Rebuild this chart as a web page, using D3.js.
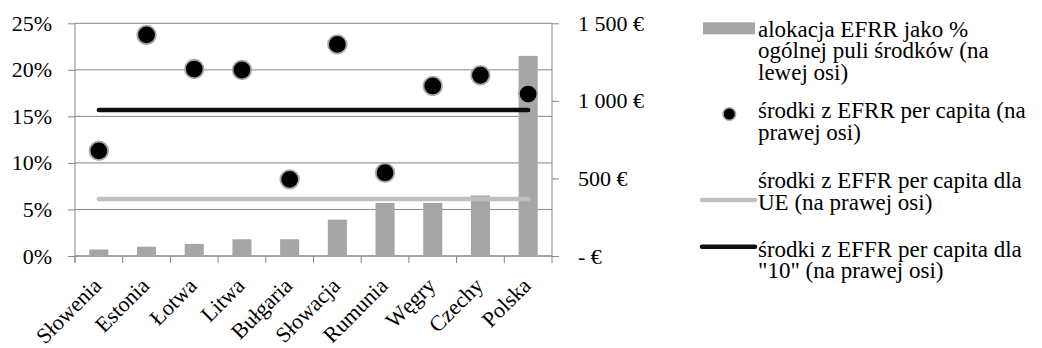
<!DOCTYPE html>
<html>
<head>
<meta charset="utf-8">
<script src="https://cdn.jsdelivr.net/npm/d3@7"></script>
<style>
  html, body { margin: 0; padding: 0; background: #fff; }
</style>
</head>
<body>
<svg id="chart" width="1042" height="348" style="font-family: 'Liberation Serif', 'Times New Roman', serif;"></svg>
<script>
// Countries on the x axis
const categories = ["Słowenia", "Estonia", "Łotwa", "Litwa", "Bułgaria", "Słowacja", "Rumunia", "Węgry", "Czechy", "Polska"];
// ERDF allocation as a share of the total pool (left axis, %)
const sharePct = [0.7, 1.0, 1.3, 1.8, 1.8, 3.9, 5.7, 5.7, 6.5, 21.5];
// ERDF funds per capita (right axis, €)
const perCapita = [678, 1425, 1205, 1199, 494, 1364, 537, 1096, 1165, 1044];
// Reference levels per capita (right axis, €)
const euAverage = 367;
const group10Average = 941;
// Axis ticks
const leftTicks = [0, 5, 10, 15, 20, 25];
const rightTicks = [0, 500, 1000, 1500];
// Legend entries
const legendItems = [
  { kind: "bar",  lines: ["alokacja EFRR jako %", "ogólnej puli środków (na", "lewej osi)"] },
  { kind: "dot",  lines: ["środki z EFRR per capita (na", "prawej osi)"] },
  { kind: "grey", lines: ["środki z EFFR per capita dla", "UE (na prawej osi)"] },
  { kind: "black", lines: ["środki z EFFR per capita dla", "\"10\" (na prawej osi)"] }
];

const svg = d3.select("#chart");
const FONT = "'Liberation Serif', 'Times New Roman', serif";
const FS = 22;
const X0 = 75, X1 = 552, YT = 23.3, YB = 256;
const axisColor = "#868686";
const barColor = "#a6a6a6";

const x = d3.scaleBand().domain(categories).range([X0, X1]).paddingInner(0.6).paddingOuter(0.3);
const xc = d => x(d) + x.bandwidth() / 2;
const yL = d3.scaleLinear().domain([0, 25]).range([YB, YT]);
const yR = d3.scaleLinear().domain([0, 1500]).range([YB, YT]);

const eur = d3.formatLocale({ decimal: ",", thousands: " ", grouping: [3], currency: ["", " €"] });
const fmtEur = v => v === 0 ? "- €" : eur.format(",.0f")(v) + " €";

// Gridlines at the left-axis ticks
svg.append("g").selectAll("line").data(leftTicks).join("line")
  .attr("x1", X0).attr("x2", X1)
  .attr("y1", d => yL(d)).attr("y2", d => yL(d))
  .attr("stroke", axisColor).attr("stroke-width", 1);

// Left axis
const gL = svg.append("g").attr("transform", `translate(${X0},0)`)
  .call(d3.axisLeft(yL).tickValues(leftTicks).tickSize(7).tickPadding(16).tickFormat(d => d + "%"));
gL.attr("font-family", FONT).attr("font-size", FS);
gL.select(".domain").attr("stroke", axisColor).attr("d", `M-0,${YB + 7}V${YT}`);
gL.selectAll(".tick line").attr("stroke", axisColor);
gL.selectAll(".tick text").attr("fill", "#000");

// Right axis
const gR = svg.append("g").attr("transform", `translate(${X1},0)`)
  .call(d3.axisRight(yR).tickValues(rightTicks).tickSize(7).tickPadding(19).tickFormat(fmtEur));
gR.attr("font-family", FONT).attr("font-size", FS);
gR.select(".domain").attr("stroke", axisColor).attr("d", `M0,${YB}V${YT}`);
gR.selectAll(".tick line").attr("stroke", axisColor);
gR.selectAll(".tick text").attr("fill", "#000");

// Category axis: ticks at band boundaries, labels turned 45°
const bounds = d3.range(categories.length + 1).map(i => X0 + i * (X1 - X0) / categories.length);
svg.append("line").attr("x1", X0).attr("x2", X1).attr("y1", YB).attr("y2", YB).attr("stroke", axisColor);
svg.append("g").selectAll("line").data(bounds).join("line")
  .attr("x1", d => d).attr("x2", d => d).attr("y1", YB).attr("y2", YB + 7)
  .attr("stroke", axisColor);
const catLabels = svg.append("g").attr("font-family", FONT).attr("font-size", FS)
  .selectAll("g").data(categories).join("g")
  .attr("transform", d => `translate(${xc(d) + 4},${YB + 31})`);
catLabels.append("g").attr("transform", "rotate(-45)")
  .append("text").attr("text-anchor", "end").text(d => d);

// Bars: share of the pool
svg.append("g").selectAll("rect").data(categories).join("rect")
  .attr("x", d => x(d)).attr("width", x.bandwidth())
  .attr("y", (d, i) => yL(sharePct[i])).attr("height", (d, i) => YB - yL(sharePct[i]))
  .attr("fill", barColor);

// Reference lines
const refLine = (val, color) => svg.append("line")
  .attr("x1", xc(categories[0])).attr("x2", xc(categories[categories.length - 1]))
  .attr("y1", yR(val)).attr("y2", yR(val))
  .attr("stroke", color).attr("stroke-width", 4.5).attr("stroke-linecap", "round");
refLine(euAverage, "#bfbfbf");
refLine(group10Average, "#0d0d0d");

// Per-capita markers
svg.append("g").selectAll("circle").data(categories).join("circle")
  .attr("cx", d => xc(d)).attr("cy", (d, i) => yR(perCapita[i])).attr("r", 9.3)
  .attr("fill", "#000").attr("stroke", "#a8a8a8").attr("stroke-width", 1.8);

// Legend
const LX = 758, lineH = 21.7;
const firstBase = [36.7, 118.3, 188.3, 256.7];
const markerY = [28.3, 114, 200, 246.7];
const lg = svg.append("g").attr("font-family", FONT).attr("font-size", 23);
legendItems.forEach((item, k) => {
  if (item.kind === "bar") {
    lg.append("rect").attr("x", 703).attr("y", markerY[k] - 6).attr("width", 52).attr("height", 12).attr("fill", barColor);
  } else if (item.kind === "dot") {
    lg.append("circle").attr("cx", 729.3).attr("cy", markerY[k]).attr("r", 6.3)
      .attr("fill", "#000").attr("stroke", "#a8a8a8").attr("stroke-width", 1.6);
  } else {
    lg.append("line").attr("x1", 702).attr("x2", 755).attr("y1", markerY[k]).attr("y2", markerY[k])
      .attr("stroke", item.kind === "grey" ? "#bfbfbf" : "#0d0d0d")
      .attr("stroke-width", 4.5).attr("stroke-linecap", "round");
  }
  item.lines.forEach((t, j) => {
    lg.append("text").attr("x", LX).attr("y", firstBase[k] + j * lineH).text(t);
  });
});
</script>
</body>
</html>
